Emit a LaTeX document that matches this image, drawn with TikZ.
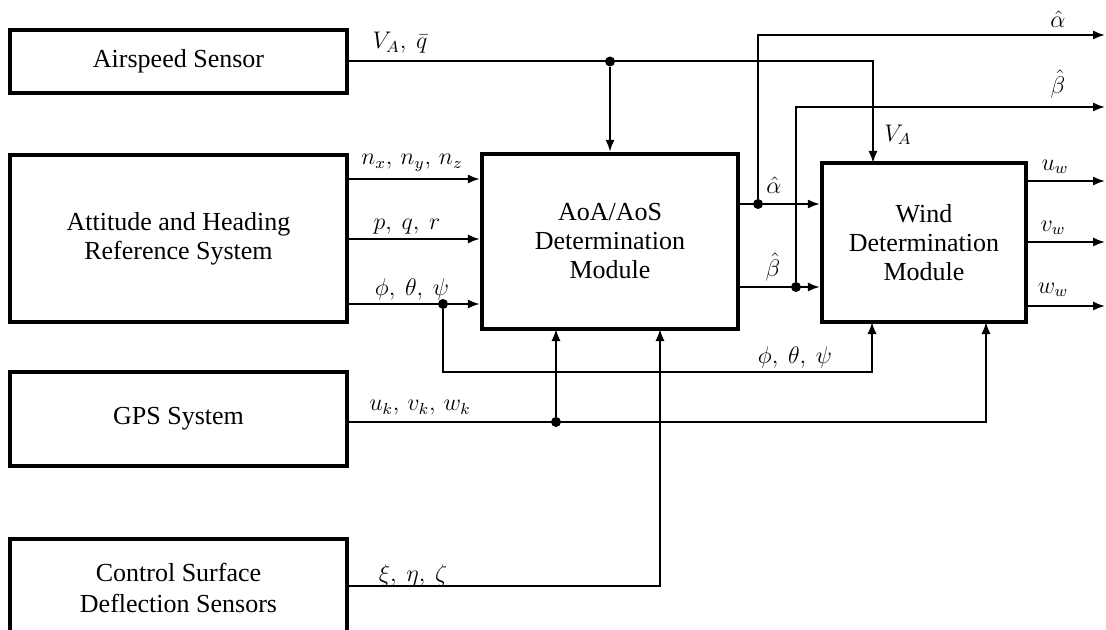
\documentclass[tikz,border=0pt]{standalone}
\usepackage{fontspec}
\setmainfont{Liberation Serif}
\usetikzlibrary{arrows.meta,calc}
\begin{document}
\begin{tikzpicture}[x=0.5pt,y=-0.5pt,
  box/.style={draw,line width=2.2pt,align=center,inner sep=0pt,font=\fontsize{13}{14.5}\selectfont},
  wire/.style={line width=1pt},
  arr/.style={wire,-{Latex[length=6pt,width=4.6pt]}},
  dot/.style={circle,fill,inner sep=0pt,minimum size=5pt},
  lbl/.style={font=\fontsize{11.5}{14}\selectfont,inner sep=0pt}]
\clip (0,0) rectangle (1106,630);
% blocks
\node[box,minimum width=168.5pt,minimum height=31.5pt] (air) at (178.5,61.5) {Airspeed Sensor};
\node[box,minimum width=168.5pt,minimum height=83.5pt] (ahrs) at (178.5,238.5) {Attitude and Heading\\Reference System};
\node[box,minimum width=168.5pt,minimum height=47pt] (gps) at (178.5,419) {GPS System};
\node[box,minimum width=168.5pt,minimum height=49pt,font=\fontsize{13}{15.5}\selectfont] (css) at (178.5,588) {Control Surface\\Deflection Sensors};
\node[box,minimum width=128pt,minimum height=87.5pt] (aoa) at (610,241.5) {AoA/AoS\\Determination\\Module};
\node[box,minimum width=102pt,minimum height=79.5pt] (wind) at (924,242.5) {Wind\\Determination\\Module};
% junction dots
\node[dot] (dq) at (aoa.north |- air.east) {};
\node[dot] (dphi) at (443,304) {};
\node[dot] (dgps) at (556,422) {};
\node[dot] (dal) at (758,204) {};
\node[dot] (dbe) at (796,287) {};
% connector end points
\coordinate (va) at (873,163);
\coordinate (wb1) at (872,322);
\coordinate (wb2) at (986,322);
\coordinate (ab1) at (556,329);
\coordinate (ab2) at (660,329);
\coordinate (aout) at (1105,35);
\coordinate (bout) at (1105,107);
\coordinate (uout) at (1105,181);
\coordinate (vout) at (1105,242);
\coordinate (wout) at (1105,306);
% airspeed
\draw[arr] (air.east) -- (va |- air.east) -- (va);
\draw[arr] (dq) -- (aoa.north);
% AHRS outputs
\draw[arr] (ahrs.east |- 0,179) -- (aoa.west |- 0,179);
\draw[arr] (ahrs.east |- 0,239) -- (aoa.west |- 0,239);
\draw[arr] (ahrs.east |- 0,304) -- (aoa.west |- 0,304);
\draw[arr] (dphi) -- (443,372) -| (wb1);
% GPS
\draw[arr] (gps.east |- 0,422) -- (wb2 |- 0,422) -- (wb2);
\draw[arr] (dgps) -- (ab1);
% control surfaces
\draw[arr] (css.east |- 0,586) -| (ab2);
% alpha, beta
\draw[arr] (aoa.east |- 0,204) -- (wind.west |- 0,204);
\draw[arr] (aoa.east |- 0,287) -- (wind.west |- 0,287);
\draw[arr] (dal) -- (dal |- aout) -- (aout);
\draw[arr] (dbe) -- (dbe |- bout) -- (bout);
% wind outputs
\draw[arr] (wind.east |- uout) -- (uout);
\draw[arr] (wind.east |- vout) -- (vout);
\draw[arr] (wind.east |- wout) -- (wout);
% labels
\node[lbl] (l1) at (400,43) {$V_A,\ \bar q$};
\node[lbl] (l2) at (412,163) {$n_x,\,n_y,\,n_z$};
\node[lbl] (l3) at (407,227) {$p,\ q,\ r$};
\node[lbl] (l4) at (412,290) {$\phi,\ \theta,\ \psi$};
\node[lbl] (l5) at (795,357) {$\phi,\ \theta,\ \psi$};
\node[lbl] (l6) at (420,408) {$u_k,\,v_k,\,w_k$};
\node[lbl] (l7) at (413,575) {$\xi,\ \eta,\ \zeta$};
\node[lbl] (l8) at (774,185) {$\hat\alpha$};
\node[lbl] (l9) at (773,267) {$\hat\beta$};
\node[lbl] (l10) at (898,135) {$V_A$};
\node[lbl] (l11) at (1058,19) {$\hat\alpha$};
\node[lbl] (l12) at (1058,84) {$\hat\beta$};
\node[lbl] (l13) at (1055,167) {$u_w$};
\node[lbl] (l14) at (1053,228) {$v_w$};
\node[lbl] (l15) at (1053,290) {$w_w$};
\end{tikzpicture}
\end{document}
